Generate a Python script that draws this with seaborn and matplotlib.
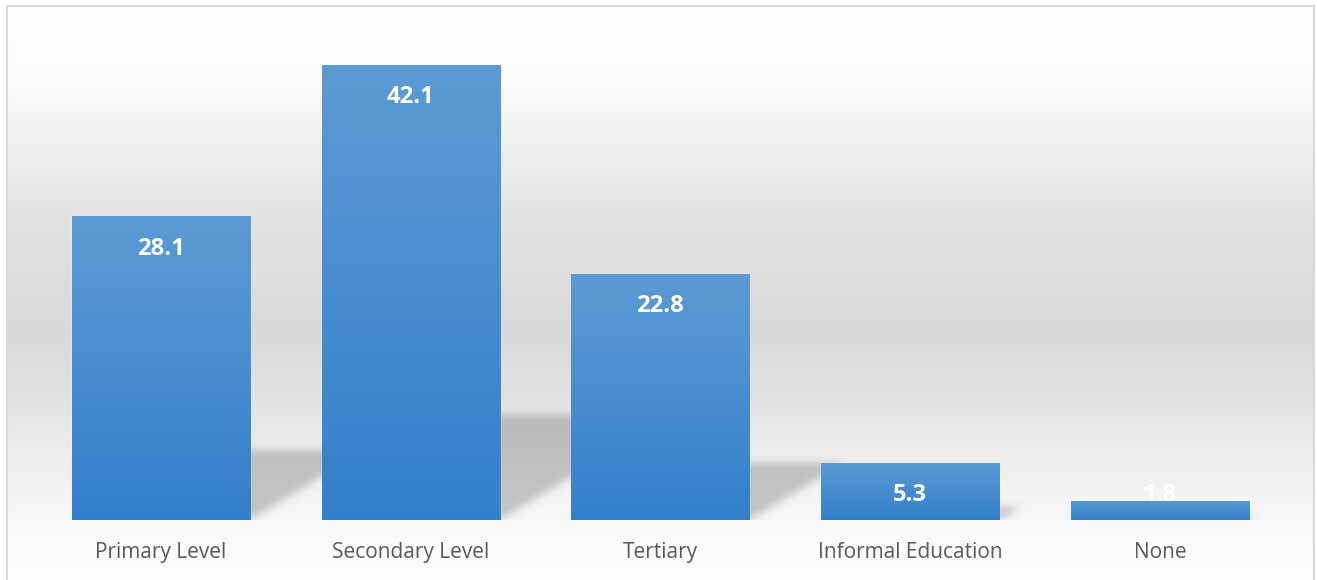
import numpy as np
import pandas as pd
import matplotlib
matplotlib.use("Agg")
import matplotlib.pyplot as plt
from matplotlib.colors import LinearSegmentedColormap
from matplotlib.patches import Rectangle
import seaborn as sns

# Highest level of education reached (%)
categories = ["Primary Level", "Secondary Level", "Tertiary", "Informal Education", "None"]
values = [28.1, 42.1, 22.8, 5.3, 1.8]

sns.set_theme(style="white")
plt.rcParams["font.family"] = ["Open Sans", "DejaVu Sans"]

W, H, DPI = 1317, 580, 100
fig = plt.figure(figsize=(W / DPI, H / DPI), dpi=DPI)
fig.patch.set_facecolor("white")

# ---- chart-area background: vertical grey gradient inside a thin frame ----
bg = fig.add_axes([0, 0, 1, 1])
bg.set_xlim(0, W)
bg.set_ylim(H, 0)
bg.axis("off")
rows = np.arange(H)
stops_y = [0, 60, 110, 200, 330, 400, 440, 480, 525, 580]
stops_v = [255, 253, 245, 228, 216, 227, 234, 242, 248, 255]
grey = np.interp(rows, stops_y, stops_v) / 255.0
bg_img = np.repeat(grey[:, None], 2, axis=1)
bg.imshow(np.dstack([bg_img] * 3), extent=(7, 1313, H, 6), aspect="auto",
          interpolation="bilinear", zorder=0)
bg.add_patch(Rectangle((6.5, 5.5), 1307, 580, fill=False, edgecolor="#d9d9d9",
                       linewidth=1.5, zorder=1))

# ---- plot axes ----
ymax = 45
ax = fig.add_axes([36.2 / W, 60 / H, 1248.5 / W, (486.4) / H])
ax.set_facecolor("none")
ax.patch.set_alpha(0)

df = pd.DataFrame({"category": categories, "value": values})
sns.barplot(data=df, x="category", y="value", color="#4a8fd1", saturation=1,
            width=0.713, ax=ax, zorder=3)

ax.set_xlim(-0.5, len(categories) - 0.5)
ax.set_ylim(0, ymax)
ax.set_xlabel("")
ax.set_ylabel("")
ax.set_yticks([])
for s in ax.spines.values():
    s.set_visible(False)
ax.tick_params(axis="x", length=0, pad=16, labelsize=15, labelcolor="#595959")

# ---- perspective shadows cast behind each bar ----
fig.canvas.draw()
bbox = ax.get_window_extent()
npx_w, npx_h = int(round(bbox.width)), int(round(bbox.height))
x0, x1 = ax.get_xlim()
y0, y1 = ax.get_ylim()
xs = x0 + (np.arange(npx_w) + 0.5) / npx_w * (x1 - x0)
ys = y0 + (np.arange(npx_h) + 0.5) / npx_h * (y1 - y0)
XX, YY = np.meshgrid(xs, ys)
px_per_x = npx_w / (x1 - x0)
px_per_y = npx_h / (y1 - y0)
skew = 1.65 * px_per_y / px_per_x  # x-data shift per y-data unit
mask = np.zeros_like(XX)
for p in ax.patches:
    left, right = p.get_x(), p.get_x() + p.get_width()
    sh = 0.23 * p.get_height()
    inside = (YY >= 0) & (YY <= sh) & (XX >= left + skew * YY) & (XX <= right + skew * YY)
    mask[inside] = 1.0


def blur(a, sigma):
    r = int(3 * sigma)
    k = np.exp(-0.5 * (np.arange(-r, r + 1) / sigma) ** 2)
    k /= k.sum()
    a = np.apply_along_axis(lambda m: np.convolve(m, k, mode="same"), 0, a)
    a = np.apply_along_axis(lambda m: np.convolve(m, k, mode="same"), 1, a)
    return a


mask = blur(mask, 4.0)
shadow = np.zeros((npx_h, npx_w, 4))
shadow[..., :3] = 0.45
shadow[..., 3] = mask * 0.38
ax.imshow(shadow, extent=(x0, x1, y0, y1), origin="lower", aspect="auto",
          interpolation="bilinear", zorder=1)

# ---- per-bar vertical gradient fill ----
bar_cmap = LinearSegmentedColormap.from_list("bar", ["#3380ca", "#5b9bd5"])
grad = np.linspace(0, 1, 256)[:, None]
for p in ax.patches:
    bx0, by0 = p.get_x(), p.get_y()
    bx1, by1 = bx0 + p.get_width(), by0 + p.get_height()
    im = ax.imshow(grad, cmap=bar_cmap, extent=(bx0, bx1, by0, by1), origin="lower",
                   aspect="auto", interpolation="bilinear", zorder=4)
    im.set_clip_path(p)

ax.set_xlim(x0, x1)
ax.set_ylim(y0, y1)

# ---- value labels inside the top of each bar ----
for i, v in enumerate(values):
    bar_px = v * px_per_y
    if bar_px - 32.5 >= 25:
        ax.annotate(f"{v}", xy=(i, v), xytext=(0, -32.5 * 72 / DPI),
                    textcoords="offset points", ha="center", va="center",
                    color="white", fontsize=17.2, fontweight="bold", zorder=6)
    else:
        ax.annotate(f"{v}", xy=(i, 0), xytext=(0, 25 * 72 / DPI),
                    textcoords="offset points", ha="center", va="center",
                    color="white", fontsize=17.2, fontweight="bold", zorder=6)

fig.savefig("out.png", dpi=DPI)
